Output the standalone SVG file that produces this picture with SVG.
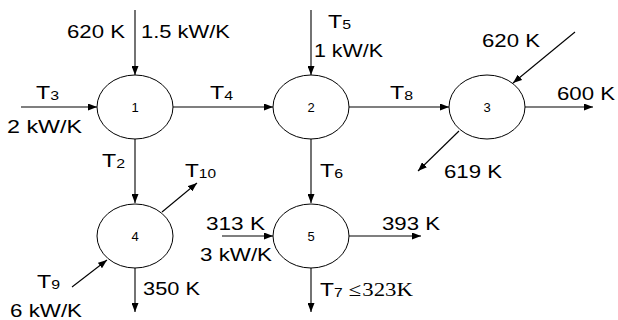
<svg xmlns="http://www.w3.org/2000/svg" width="618" height="320" viewBox="0 0 618 320">
<style>
.n{fill:#fff;stroke:#000;stroke-width:1}
.c line{stroke:#000;stroke-width:1.1;marker-end:url(#ah)}
text{font-family:"Liberation Sans",Arial,sans-serif;font-size:19px;fill:#000}
.nl{font-size:13px;text-anchor:middle}
.s{font-size:13px}
.tm{font-family:"Liberation Serif","Times New Roman",serif;font-size:19px}
</style>
<defs>
<marker id="ah" markerWidth="9" markerHeight="7" refX="9" refY="3.5" orient="auto" markerUnits="userSpaceOnUse">
<path d="M0,0 L9,3.5 L0,7 z" fill="#000"/>
</marker>
</defs>
<rect width="618" height="320" fill="#fff"/>
<g id="connectors" class="c">
<line x1="135" y1="10" x2="135" y2="75"/>
<line x1="21" y1="107" x2="97" y2="107"/>
<line x1="173" y1="107" x2="273" y2="107"/>
<line x1="311" y1="10" x2="311" y2="75"/>
<line x1="349" y1="107" x2="449" y2="107"/>
<line x1="575" y1="32" x2="513" y2="83"/>
<line x1="525" y1="107" x2="593" y2="107"/>
<line x1="459" y1="131" x2="418" y2="171"/>
<line x1="135" y1="139" x2="135" y2="203"/>
<line x1="311" y1="139" x2="311" y2="203"/>
<line x1="162" y1="212" x2="197" y2="183"/>
<line x1="72" y1="287" x2="107" y2="260"/>
<line x1="135" y1="268" x2="135" y2="312"/>
<line x1="222" y1="236" x2="273" y2="236"/>
<line x1="349" y1="236" x2="421" y2="236"/>
<line x1="311" y1="268" x2="311" y2="312"/>
</g>
<g id="node1"><ellipse class="n" cx="135" cy="107" rx="38" ry="32"/><text class="nl" x="135" y="112">1</text></g>
<g id="node2"><ellipse class="n" cx="311" cy="107" rx="38" ry="32"/><text class="nl" x="311" y="112">2</text></g>
<g id="node3"><ellipse class="n" cx="487" cy="107" rx="38" ry="32"/><text class="nl" x="487" y="112">3</text></g>
<g id="node4"><ellipse class="n" cx="135" cy="236" rx="38" ry="32"/><text class="nl" x="135" y="241">4</text></g>
<g id="node5"><ellipse class="n" cx="311" cy="236" rx="38" ry="32"/><text class="nl" x="311" y="241">5</text></g>
<g id="labels">
<text x="67" y="38" textLength="58" lengthAdjust="spacingAndGlyphs">620 K</text>
<text x="141" y="38" textLength="89" lengthAdjust="spacingAndGlyphs">1.5 kW/K</text>
<text x="36" y="99" textLength="23" lengthAdjust="spacingAndGlyphs">T<tspan class="s" dy="1">3</tspan></text>
<text x="7" y="133" textLength="75" lengthAdjust="spacingAndGlyphs">2 kW/K</text>
<text x="210" y="99" textLength="23" lengthAdjust="spacingAndGlyphs">T<tspan class="s" dy="1">4</tspan></text>
<text x="328" y="28" textLength="23" lengthAdjust="spacingAndGlyphs">T<tspan class="s" dy="1">5</tspan></text>
<text x="314" y="57" textLength="69" lengthAdjust="spacingAndGlyphs">1 kW/K</text>
<text x="390" y="99" textLength="23" lengthAdjust="spacingAndGlyphs">T<tspan class="s" dy="1">8</tspan></text>
<text x="482" y="47" textLength="58" lengthAdjust="spacingAndGlyphs">620 K</text>
<text x="557" y="100" textLength="58" lengthAdjust="spacingAndGlyphs">600 K</text>
<text x="444" y="178" textLength="58" lengthAdjust="spacingAndGlyphs">619 K</text>
<text x="102" y="167" textLength="23" lengthAdjust="spacingAndGlyphs">T<tspan class="s" dy="1">2</tspan></text>
<text x="185" y="177" textLength="31" lengthAdjust="spacingAndGlyphs">T<tspan class="s" dy="1">10</tspan></text>
<text x="320" y="177" textLength="23" lengthAdjust="spacingAndGlyphs">T<tspan class="s" dy="1">6</tspan></text>
<text x="206" y="230" textLength="59" lengthAdjust="spacingAndGlyphs">313 K</text>
<text x="200" y="261" textLength="72" lengthAdjust="spacingAndGlyphs">3 kW/K</text>
<text x="382" y="230" textLength="58" lengthAdjust="spacingAndGlyphs">393 K</text>
<text x="37" y="288" textLength="23" lengthAdjust="spacingAndGlyphs">T<tspan class="s" dy="1">9</tspan></text>
<text x="10" y="317" textLength="72" lengthAdjust="spacingAndGlyphs">6 kW/K</text>
<text x="143" y="295" textLength="57" lengthAdjust="spacingAndGlyphs">350 K</text>
<text x="320" y="296" textLength="93" lengthAdjust="spacingAndGlyphs">T<tspan class="s" dy="1">7</tspan><tspan class="tm" dy="-1" dx="5">≤</tspan><tspan class="tm" dx="1">323K</tspan></text>
</g>
</svg>
